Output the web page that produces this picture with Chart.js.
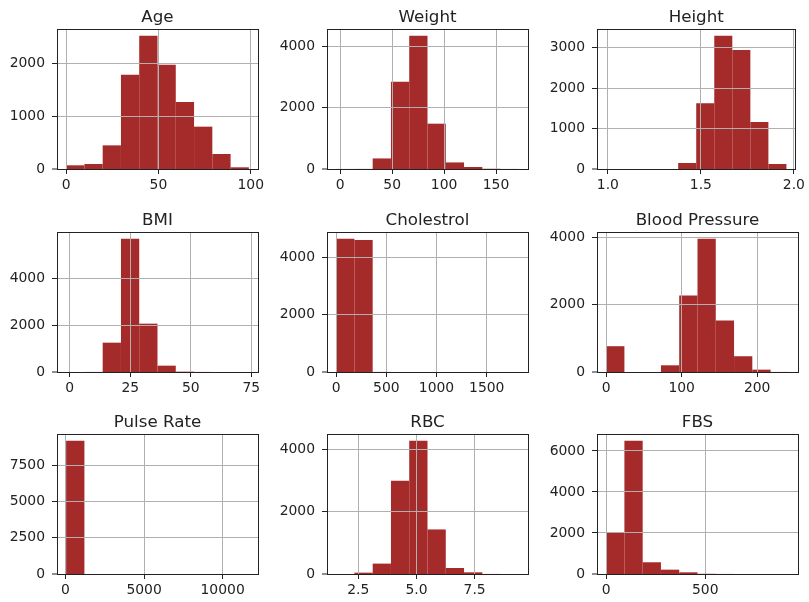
<!DOCTYPE html>
<html>
<head>
<meta charset="utf-8">
<script src="https://cdn.jsdelivr.net/npm/chart.js@4"></script>
<style>
  html, body { margin: 0; padding: 0; background: #fff; overflow: hidden; width: 809px; height: 602px; }
  canvas { position: absolute; }
</style>
</head>
<body>
<script>
// histogram data (10 bins each, first/last bin edge in *Range)
const titles = ['Age', 'Weight', 'Height', 'BMI', 'Cholestrol', 'Blood Pressure', 'Pulse Rate', 'RBC', 'FBS'];

const ageRange = [0, 99];
const ageCounts = [70, 95, 449, 1791, 2532, 1981, 1272, 804, 285, 32];
const ageXTicks = ['0', '50', '100'];
const ageYTicks = ['0', '1000', '2000'];

const weightRange = [-4, 172];
const weightCounts = [2, 3, 345, 2855, 4360, 1482, 215, 65, 8, 2];
const weightXTicks = ['0', '50', '100', '150'];
const weightYTicks = ['0', '2000', '4000'];

const heightRange = [0.99, 1.96];
const heightCounts = [2, 0, 1, 3, 148, 1624, 3298, 2943, 1162, 124];
const heightXTicks = ['1.0', '1.5', '2.0'];
const heightYTicks = ['0', '1000', '2000', '3000'];

const bmiRange = [-1.5, 74];
const bmiCounts = [1, 3, 1248, 5674, 2057, 270, 15, 3, 1, 1];
const bmiXTicks = ['0', '25', '50', '75'];
const bmiYTicks = ['0', '2000', '4000'];

const cholRange = [0, 1820];
const cholCounts = [4665, 4620, 3, 1, 0, 0, 0, 0, 0, 1];
const cholXTicks = ['0', '500', '1000', '1500'];
const cholYTicks = ['0', '2000', '4000'];

const bpRange = [0, 242];
const bpCounts = [766, 0, 0, 199, 2269, 3960, 1532, 468, 70, 2];
const bpXTicks = ['0', '100', '200'];
const bpYTicks = ['0', '2000', '4000'];

const pulseRange = [40, 11670];
const pulseCounts = [9213, 2, 1, 0, 0, 0, 0, 0, 0, 1];
const pulseXTicks = ['0', '5000', '10000'];
const pulseYTicks = ['0', '2500', '5000', '7500'];

const rbcRange = [1.55, 9.4];
const rbcCounts = [1, 43, 334, 2997, 4291, 1434, 194, 54, 2, 1];
const rbcXTicks = ['2.5', '5.0', '7.5'];
const rbcYTicks = ['0', '2000', '4000'];

const fbsRange = [0, 922];
const fbsCounts = [2010, 6503, 572, 212, 82, 10, 3, 1, 0, 1];
const fbsXTicks = ['0', '500'];
const fbsYTicks = ['0', '2000', '4000', '6000'];

const panels = [
  [ageRange, ageCounts, ageXTicks, ageYTicks],
  [weightRange, weightCounts, weightXTicks, weightYTicks],
  [heightRange, heightCounts, heightXTicks, heightYTicks],
  [bmiRange, bmiCounts, bmiXTicks, bmiYTicks],
  [cholRange, cholCounts, cholXTicks, cholYTicks],
  [bpRange, bpCounts, bpXTicks, bpYTicks],
  [pulseRange, pulseCounts, pulseXTicks, pulseYTicks],
  [rbcRange, rbcCounts, rbcXTicks, rbcYTicks],
  [fbsRange, fbsCounts, fbsXTicks, fbsYTicks]
];

// layout of the 3x3 grid (axes boxes in page pixels)
const L = 57, T = 29, R = 10, B = 28, AW = 201, AH = 140;
const colLeft = [57, 327, 597];
const rowTop = [29, 232, 434];

const barColor = '#a52a2a';
const gridColor = '#b0b0b0';
const textColor = '#222';
const tickFont = { family: 'DejaVu Sans', size: 13.9 };

// spines on all four sides + title centred over the axes
const framePlugin = {
  id: 'frame',
  afterDraw(chart) {
    const { ctx, chartArea: a } = chart;
    ctx.save();
    ctx.strokeStyle = '#222';
    ctx.lineWidth = 1;
    ctx.strokeRect(Math.round(a.left) + 0.5, Math.round(a.top) + 0.5,
      Math.round(a.right - a.left), Math.round(a.bottom - a.top));
    ctx.fillStyle = textColor;
    ctx.font = '16.7px "DejaVu Sans"';
    ctx.textAlign = 'center';
    ctx.textBaseline = 'alphabetic';
    ctx.fillText(chart.options.plugins.frame.title, (a.left + a.right) / 2, a.top - 7.5);
    ctx.restore();
  }
};

panels.forEach(([range, counts, xTicks, yTicks], i) => {
  const canvas = document.createElement('canvas');
  canvas.width = L + AW + R;
  canvas.height = T + AH + B;
  canvas.style.left = (colLeft[i % 3] - L) + 'px';
  canvas.style.top = (rowTop[Math.floor(i / 3)] - T) + 'px';
  document.body.appendChild(canvas);

  const [lo, hi] = range;
  const binW = (hi - lo) / counts.length;
  const margin = (hi - lo) * 0.05;
  const yMax = Math.max(...counts) * 1.05;

  new Chart(canvas, {
    type: 'bar',
    data: {
      datasets: [{
        data: counts.map((c, k) => ({ x: lo + (k + 0.5) * binW, y: c })),
        backgroundColor: barColor,
        borderWidth: 0,
        inflateAmount: 0,
        barPercentage: 1,
        categoryPercentage: 1
      }]
    },
    options: {
      responsive: false,
      animation: false,
      devicePixelRatio: 1,
      layout: { padding: { top: T, right: R, left: 0, bottom: 0 } },
      plugins: {
        legend: { display: false },
        tooltip: { enabled: false },
        title: { display: false },
        frame: { title: titles[i] }
      },
      scales: {
        x: {
          type: 'linear',
          min: lo - margin,
          max: hi + margin,
          offset: false,
          bounds: 'data',
          afterBuildTicks: s => { s.ticks = xTicks.map(t => ({ value: parseFloat(t) })); },
          afterFit: s => { s.height = B; },
          grid: { z: 1, offset: false, color: gridColor, lineWidth: 1, tickLength: 5, tickColor: '#222', tickWidth: 1 },
          border: { display: false },
          ticks: { autoSkip: false, maxRotation: 0, padding: 3, color: textColor, font: tickFont,
            callback: (v, k) => xTicks[k] }
        },
        y: {
          type: 'linear',
          min: 0,
          max: yMax,
          bounds: 'data',
          afterBuildTicks: s => { s.ticks = yTicks.map(t => ({ value: parseFloat(t) })); },
          afterFit: s => { s.width = L; },
          // no grid width at 0, so tiny bins stay flat on the baseline (the frame draws the spine)
          grid: { z: 1, color: gridColor, lineWidth: c => (c.tick && c.tick.value === 0 ? 0 : 1),
            tickLength: 5, tickColor: '#222', tickWidth: 1 },
          border: { display: false },
          ticks: { autoSkip: false, padding: 7, color: textColor, font: tickFont,
            callback: (v, k) => yTicks[k] }
        }
      }
    },
    plugins: [framePlugin]
  });
});
</script>
</body>
</html>
